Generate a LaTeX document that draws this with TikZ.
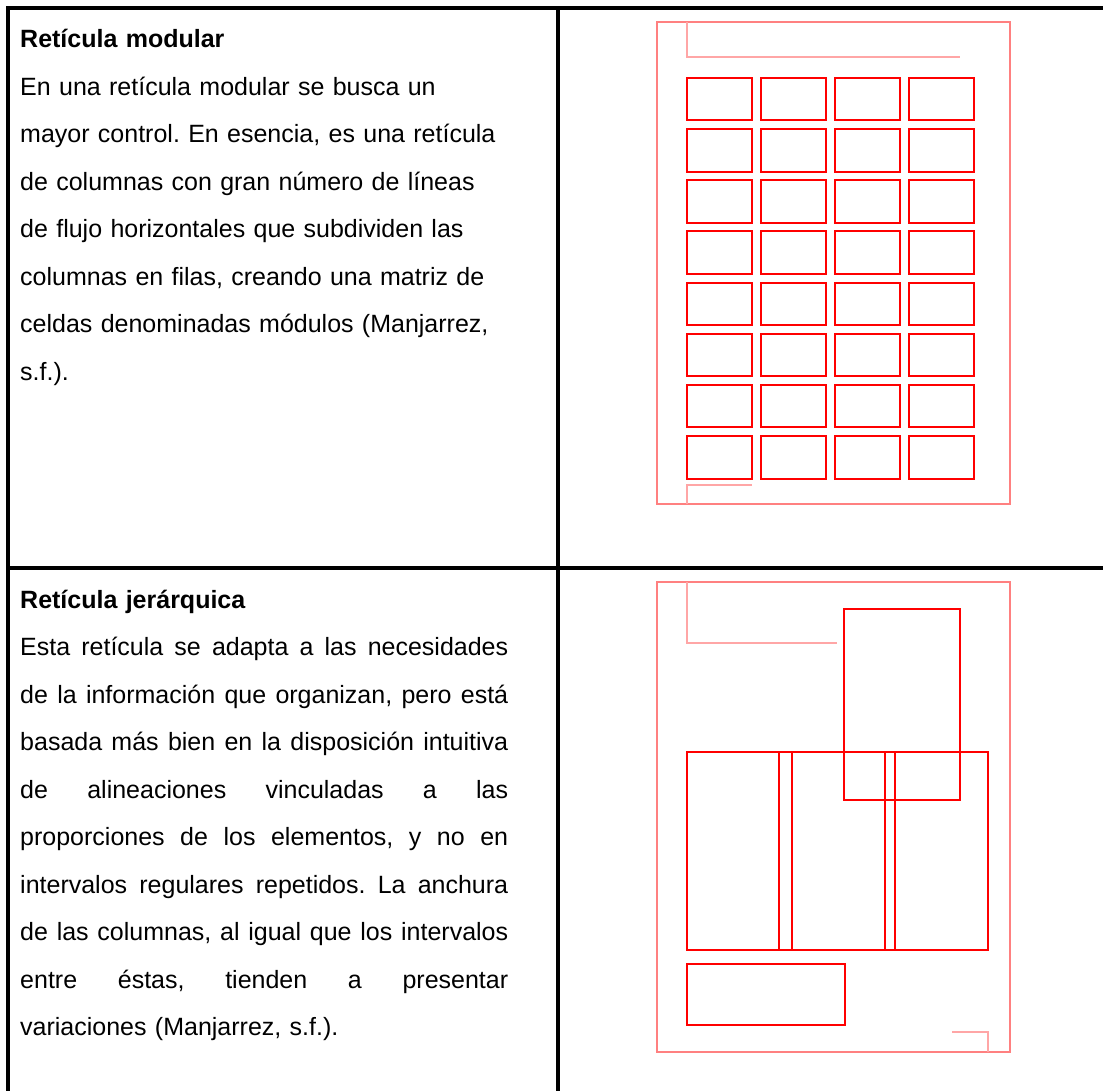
\documentclass[tikz,border=0pt]{standalone}
\usepackage{fontspec}
\setmainfont{Liberation Sans}
\usepackage{xcolor}
\usepackage{tikz}
\usetikzlibrary{positioning,calc}

\newcommand{\jline}[1]{\makebox[488pt][s]{\spaceskip=0.278em plus 1fill\relax #1}}

\begin{document}
\frenchspacing
\begin{tikzpicture}[x=1pt, y=-1pt]
    \tikzstyle{frame} = [draw=black, line width=3.5pt]
    \tikzstyle{page} = [draw=red!50, line width=2.5pt]
    \tikzstyle{guide} = [draw=red!35, line width=1.6pt]
    \tikzstyle{cell} = [draw=red, line width=2pt]
    \tikzstyle{txt} = [anchor=base west, inner sep=0pt, text width=510pt, align=left, font=\fontsize{25}{47.5}\selectfont\frenchspacing]

    \useasboundingbox (0,0) rectangle (1103,1091);

    % table
    \draw [frame] (8,1091) -- (8,8) -- (1103,8);
    \draw [frame] (558,8) -- (558,1091);
    \draw [frame] (8,568) -- (1103,568);

    % texts
    \node [txt] (modular) at (20,48) {\textbf{Retícula modular}\\
        En una retícula modular se busca un\\
        mayor control. En esencia, es una retícula\\
        de columnas con gran número de líneas\\
        de flujo horizontales que subdividen las\\
        columnas en filas, creando una matriz de\\
        celdas denominadas módulos (Manjarrez,\\
        s.f.).};
    \node [txt] (jerarquica) at (20,608) {\textbf{Retícula jerárquica}\\
        \jline{Esta retícula se adapta a las necesidades}\\
        \jline{de la información que organizan, pero está}\\
        \jline{basada más bien en la disposición intuitiva}\\
        \jline{de alineaciones vinculadas a las}\\
        \jline{proporciones de los elementos, y no en}\\
        \jline{intervalos regulares repetidos. La anchura}\\
        \jline{de las columnas, al igual que los intervalos}\\
        \jline{entre éstas, tienden a presentar}\\
        variaciones (Manjarrez, s.f.).};

    % modular grid
    \draw [page] (657,22) rectangle (1010,504);
    \draw [guide] (687,22) -- (687,57) -- (960,57);
    \draw [guide] (687,504) -- (687,485) -- (752,485);
    \foreach \i in {0,...,3}
        \foreach \j in {0,...,7}
            \draw [cell] ({687+74*\i},{78+51.15*\j}) rectangle +(64.5,42.5);

    % hierarchical grid
    \draw [page] (657,582) rectangle (1010,1052);
    \draw [guide] (687,582) -- (687,643) -- (837,643);
    \draw [guide] (952,1032) -- (988,1032) -- (988,1052);
    \draw [cell] (844,609) rectangle (960,800);
    \draw [cell] (687,752) rectangle (988,950);
    \draw [cell] (779,752) -- (779,950);
    \draw [cell] (792,752) -- (792,950);
    \draw [cell] (885,752) -- (885,950);
    \draw [cell] (895,752) -- (895,950);
    \draw [cell] (687,964) rectangle (845,1025);
\end{tikzpicture}
\end{document}
